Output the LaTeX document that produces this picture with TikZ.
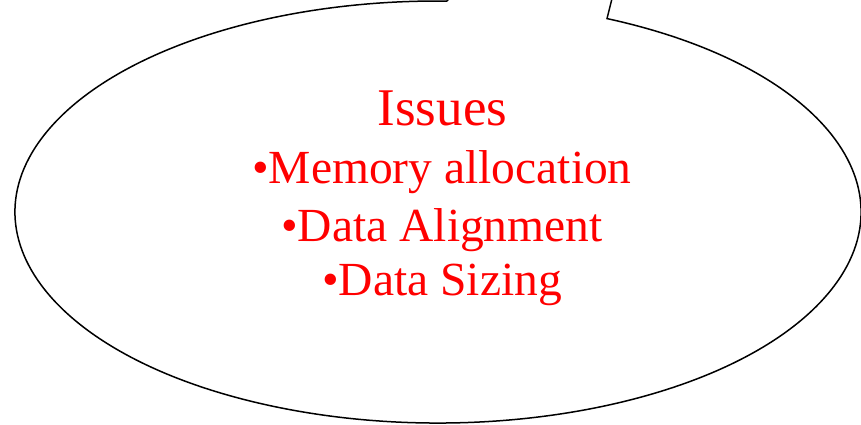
\documentclass[tikz,border=0pt]{standalone}
\usepackage{fontspec}
\setmainfont{Liberation Serif}
\usetikzlibrary{calc}
\begin{document}
\begin{tikzpicture}[x=1pt,y=1pt,
  bubble/.style={draw=black,line width=1.5pt,line join=miter},
  label/.style={text=red,anchor=base,inner sep=0pt,font=\fontsize{47.5}{57}\selectfont},
  heading/.style={label,font=\fontsize{53}{60}\selectfont}]
\useasboundingbox (0,0) rectangle (861,424);
\clip (0,0) rectangle (861,424);
\coordinate (c) at (438,212);
\coordinate (tip) at (666,641);
\draw[bubble] ($(c)+(66.45:423 and 211)$) arc[start angle=66.45,end angle=-271.2,x radius=423,y radius=211] -- (tip) -- cycle;
\node[heading] (t0) at (442.5,299) {Issues};
\node[label] (t1) at (442,241) {•Memory allocation};
\node[label] (t2) at (442,183) {•Data Alignment};
\node[label] (t3) at (442,129) {•Data Sizing};
\end{tikzpicture}
\end{document}
